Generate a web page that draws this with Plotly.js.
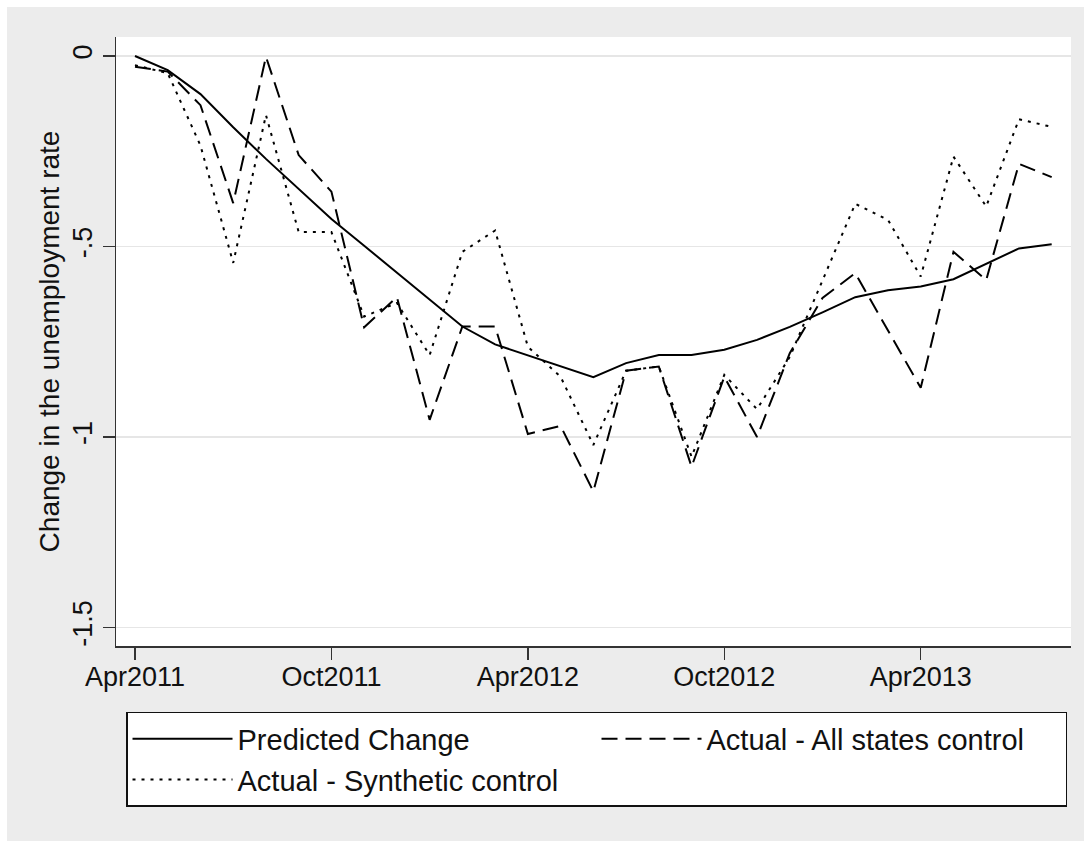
<!DOCTYPE html>
<html>
<head>
<meta charset="utf-8">
<script src="https://cdn.plot.ly/plotly-3.0.1.min.js"></script>
<style>
  html, body { margin: 0; padding: 0; background: #ffffff; }
  #chart { position: absolute; left: 7px; top: 7px; width: 1077px; height: 834px; }
</style>
</head>
<body>
<div id="chart"></div>
<script>
// monthly, Apr2011 .. Aug2013
const months = ['Apr2011', 'May2011', 'Jun2011', 'Jul2011', 'Aug2011', 'Sep2011', 'Oct2011', 'Nov2011', 'Dec2011',
    'Jan2012', 'Feb2012', 'Mar2012', 'Apr2012', 'May2012', 'Jun2012', 'Jul2012', 'Aug2012', 'Sep2012', 'Oct2012',
    'Nov2012', 'Dec2012', 'Jan2013', 'Feb2013', 'Mar2013', 'Apr2013', 'May2013', 'Jun2013', 'Jul2013', 'Aug2013'];

const predicted = [0, -0.037, -0.10, -0.187, -0.27, -0.35, -0.428, -0.498, -0.569,
    -0.64, -0.71, -0.757, -0.785, -0.815, -0.843, -0.806, -0.785, -0.785, -0.771,
    -0.745, -0.711, -0.673, -0.633, -0.615, -0.605, -0.586, -0.546, -0.505, -0.494];

const allStates = [-0.028, -0.041, -0.129, -0.386, -0.002, -0.26, -0.356, -0.712, -0.633,
    -0.955, -0.71, -0.71, -0.992, -0.971, -1.143, -0.826, -0.815, -1.078, -0.842,
    -1.0, -0.78, -0.635, -0.57, -0.72, -0.871, -0.514, -0.588, -0.283, -0.318];

const synthetic = [-0.024, -0.045, -0.235, -0.543, -0.155, -0.462, -0.462, -0.684, -0.648,
    -0.785, -0.514, -0.458, -0.763, -0.842, -1.021, -0.826, -0.815, -1.052, -0.837,
    -0.927, -0.79, -0.59, -0.388, -0.43, -0.579, -0.264, -0.395, -0.166, -0.186];

const tickMonths = ['Apr2011', 'Oct2011', 'Apr2012', 'Oct2012', 'Apr2013'];
const yTicks = [0, -0.5, -1, -1.5];
const yTickText = ['0', '-.5', '-1', '-1.5'];

const font = 'Liberation Sans, Arial, Helvetica, sans-serif';

const traces = [
    { x: months, y: predicted, name: 'Predicted Change', line: { color: '#000', width: 2, dash: 'solid' } },
    { x: months, y: allStates, name: 'Actual - All states control', line: { color: '#000', width: 2, dash: '16px,8px' } },
    { x: months, y: synthetic, name: 'Actual - Synthetic control', line: { color: '#000', width: 2, dash: '3px,6px' } }
].map(t => Object.assign({ type: 'scatter', mode: 'lines' }, t));

Plotly.newPlot('chart', traces, {
    width: 1077,
    height: 834,
    paper_bgcolor: '#ececec',
    plot_bgcolor: '#ffffff',
    font: { family: font, color: '#111' },
    margin: { l: 109, r: 13, t: 30, b: 195, autoexpand: false },
    xaxis: {
        type: 'category',
        range: [-0.58, 28.59],
        tickmode: 'array',
        tickvals: tickMonths,
        ticktext: tickMonths,
        ticks: 'outside', ticklen: 12, tickwidth: 1.5, tickcolor: '#333',
        tickfont: { size: 27 },
        ticklabelstandoff: -6,
        showline: true, linecolor: '#333', linewidth: 1.5,
        showgrid: false, zeroline: false
    },
    yaxis: {
        range: [-1.5486, 0.0499],
        tickmode: 'array',
        tickvals: yTicks,
        ticktext: yTickText,
        tickangle: -90,
        ticks: 'outside', ticklen: 12, tickwidth: 1.5, tickcolor: '#333',
        tickfont: { size: 27 },
        showline: true, linecolor: '#333', linewidth: 1.5,
        showgrid: true, gridcolor: '#e6e6e6', gridwidth: 1.5,
        zeroline: false,
        title: { text: 'Change in the unemployment rate', font: { size: 28 }, standoff: 0 }
    },
    showlegend: true,
    legend: {
        orientation: 'h',
        xref: 'container', x: 0.1105, xanchor: 'left',
        yref: 'container', y: 0.1547, yanchor: 'top',
        bgcolor: '#ffffff', bordercolor: '#111', borderwidth: 1.5,
        font: { size: 29 },
        itemwidth: 100,
        entrywidth: 354, entrywidthmode: 'pixels',
        traceorder: 'normal'
    }
}, { displayModeBar: false, staticPlot: true });
</script>
</body>
</html>
